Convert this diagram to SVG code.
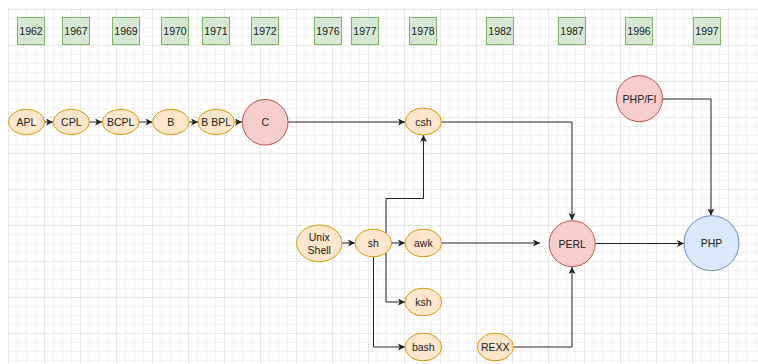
<svg xmlns="http://www.w3.org/2000/svg" width="758" height="364" viewBox="0 0 758 364">
<style>
text{font-family:"Liberation Sans",Arial,Helvetica,sans-serif;font-size:10.5px;fill:#222;text-anchor:middle;dominant-baseline:central}
.yr{fill:#d5e8d4;stroke:#82b366;stroke-width:1}
.or{fill:#ffe6cc;stroke:#d79b00;stroke-width:1}
.rd{fill:#f8cecc;stroke:#b85450;stroke-width:1}
.bl{fill:#dae8fc;stroke:#6c8ebf;stroke-width:1}
.cn path{fill:none;stroke:#222;stroke-width:1;marker-end:url(#ah)}
</style>
<defs>
<pattern id="grid" patternUnits="userSpaceOnUse" x="8" y="9" width="36" height="36">
<path d="M9.5,0V36M18.5,0V36M27.5,0V36M0,9.5H36M0,18.5H36M0,27.5H36" stroke="#f4f4f4" stroke-width="1" fill="none"/>
<path d="M0.5,0V36M0,0.5H36" stroke="#e8e8e8" stroke-width="1" fill="none"/>
</pattern>
<marker id="ah" markerUnits="userSpaceOnUse" markerWidth="9" markerHeight="9" refX="7" refY="3.5" orient="auto">
<path d="M0,0L7,3.5L0,7L1.75,3.5Z" fill="#222"/>
</marker>
</defs>
<rect width="758" height="364" fill="#fff"/>
<rect x="8" y="8" width="750" height="356" fill="url(#grid)"/>

<g id="years">
<g id="y1962"><rect class="yr" x="17.5" y="17.5" width="27" height="27"/><text x="31" y="31">1962</text></g>
<g id="y1967"><rect class="yr" x="62.5" y="17.5" width="27" height="27"/><text x="76" y="31">1967</text></g>
<g id="y1969"><rect class="yr" x="112.5" y="17.5" width="27" height="27"/><text x="126" y="31">1969</text></g>
<g id="y1970"><rect class="yr" x="161.5" y="17.5" width="27" height="27"/><text x="175" y="31">1970</text></g>
<g id="y1971"><rect class="yr" x="202.5" y="17.5" width="27" height="27"/><text x="216" y="31">1971</text></g>
<g id="y1972"><rect class="yr" x="251.5" y="17.5" width="27" height="27"/><text x="265" y="31">1972</text></g>
<g id="y1976"><rect class="yr" x="314.5" y="17.5" width="27" height="27"/><text x="328" y="31">1976</text></g>
<g id="y1977"><rect class="yr" x="351.5" y="17.5" width="27" height="27"/><text x="365" y="31">1977</text></g>
<g id="y1978"><rect class="yr" x="409.5" y="17.5" width="27" height="27"/><text x="423" y="31">1978</text></g>
<g id="y1982"><rect class="yr" x="486.5" y="17.5" width="27" height="27"/><text x="500" y="31">1982</text></g>
<g id="y1987"><rect class="yr" x="558.5" y="17.5" width="27" height="27"/><text x="572" y="31">1987</text></g>
<g id="y1996"><rect class="yr" x="625.5" y="17.5" width="27" height="27"/><text x="639" y="31">1996</text></g>
<g id="y1997"><rect class="yr" x="693.5" y="17.5" width="27" height="27"/><text x="707" y="31">1997</text></g>
</g>

<g id="connectors" class="cn">
<path d="M44.5,122H53"/>
<path d="M89.5,122H102"/>
<path d="M139,122H152.5"/>
<path d="M189,122H198"/>
<path d="M234.5,122H242"/>
<path d="M288,122H405"/>
<path d="M441.5,122H572V220"/>
<path d="M662.5,99H711V215.5"/>
<path d="M342,243H355"/>
<path d="M391.5,243H405"/>
<path d="M386,233V198.5H423.5V135"/>
<path d="M386,253V302H405"/>
<path d="M373.5,257V347H405"/>
<path d="M441.5,243H540"/>
<path d="M595,243.5H684"/>
<path d="M513.5,347H572V267"/>
</g>

<g id="APL"><ellipse class="or" cx="26.5" cy="122" rx="18" ry="12.7"/><text x="26.5" y="122">APL</text></g>
<g id="CPL"><ellipse class="or" cx="71.3" cy="122" rx="18" ry="12.7"/><text x="71.3" y="122">CPL</text></g>
<g id="BCPL"><ellipse class="or" cx="120.7" cy="122" rx="18.3" ry="12.7"/><text x="120.7" y="122">BCPL</text></g>
<g id="B"><ellipse class="or" cx="170.8" cy="122" rx="18.2" ry="12.7"/><text x="170.8" y="122">B</text></g>
<g id="BBPL"><ellipse class="or" cx="216.2" cy="122" rx="18.2" ry="12.7"/><text x="216.2" y="122">B BPL</text></g>
<g id="C"><circle class="rd" cx="265.2" cy="122.3" r="22.8"/><text x="265.2" y="122.3">C</text></g>
<g id="csh"><ellipse class="or" cx="423.3" cy="121.5" rx="18" ry="13.5"/><text x="423.3" y="121.5">csh</text></g>
<g id="PHPFI"><circle class="rd" cx="639.5" cy="98.7" r="23"/><text x="639.5" y="98.7">PHP/FI</text></g>
<g id="UnixShell"><ellipse class="or" cx="319.3" cy="243.3" rx="22.7" ry="18.3"/><text x="319.3" y="236.5">Unix</text><text x="319.3" y="250">Shell</text></g>
<g id="sh"><ellipse class="or" cx="373.3" cy="243" rx="18.3" ry="13.7"/><text x="373.3" y="243">sh</text></g>
<g id="awk"><ellipse class="or" cx="423.3" cy="243" rx="18.3" ry="13.7"/><text x="423.3" y="243">awk</text></g>
<g id="ksh"><ellipse class="or" cx="423.3" cy="302" rx="18.3" ry="13.7"/><text x="423.3" y="302">ksh</text></g>
<g id="bash"><ellipse class="or" cx="423.3" cy="347" rx="18.3" ry="13.7"/><text x="423.3" y="347">bash</text></g>
<g id="REXX"><ellipse class="or" cx="495.3" cy="347" rx="18" ry="13.7"/><text x="495.3" y="347">REXX</text></g>
<g id="PERL"><circle class="rd" cx="572.2" cy="243.7" r="23"/><text x="572.2" y="243.7">PERL</text></g>
<g id="PHP"><circle class="bl" cx="711.5" cy="243.2" r="27.5"/><text x="711.5" y="243.2">PHP</text></g>
</svg>
